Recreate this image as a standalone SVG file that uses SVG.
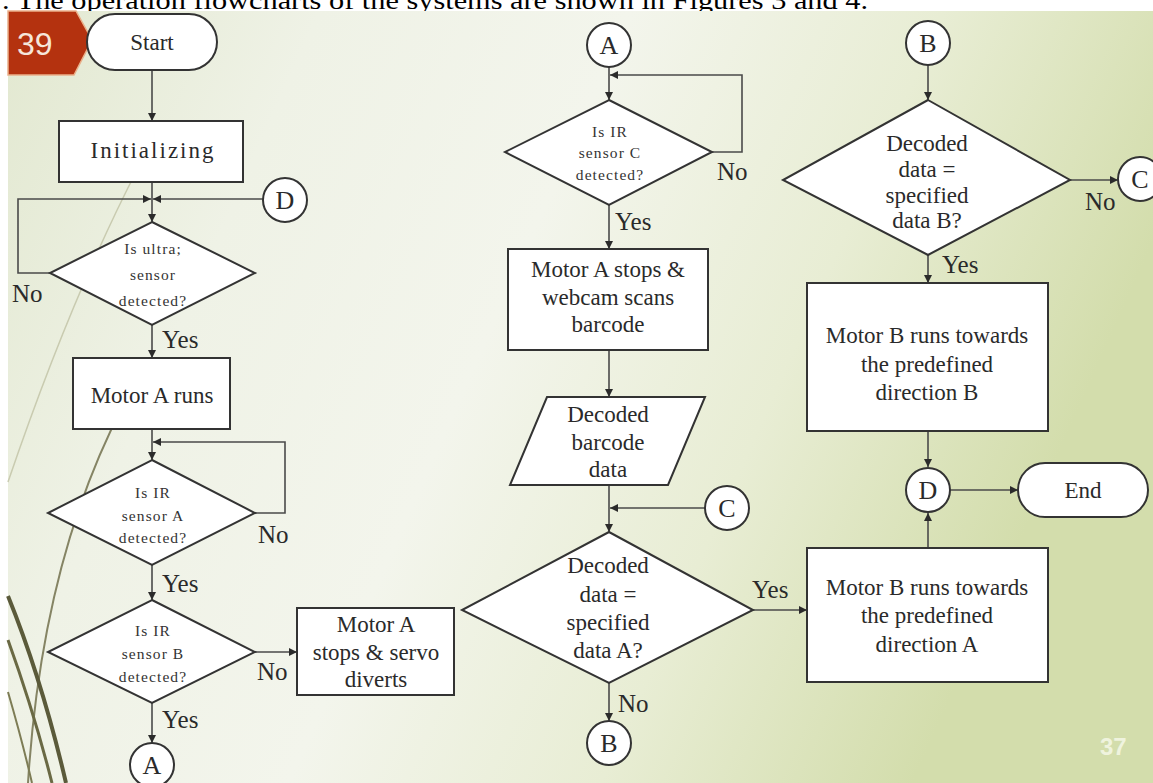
<svg xmlns="http://www.w3.org/2000/svg" width="1153" height="783" viewBox="0 0 1153 783">
<defs>
<linearGradient id="bg" x1="0" y1="0" x2="1" y2="0.3">
<stop offset="0" stop-color="#e2e8d0"/>
<stop offset="0.25" stop-color="#eff2e6"/>
<stop offset="0.5" stop-color="#f3f5ec"/>
<stop offset="0.75" stop-color="#e8edd4"/>
<stop offset="1" stop-color="#d3ddac"/>
</linearGradient>
<marker id="ah" viewBox="0 0 10 10" refX="10" refY="5" markerWidth="9" markerHeight="8" markerUnits="userSpaceOnUse" orient="auto">
<path d="M0,0 L10,5 L0,10 z" fill="#2b2b2b"/>
</marker>
<style>
.n{fill:#ffffff;stroke:#333333;stroke-width:2}
.c{fill:none;stroke:#4a4a4a;stroke-width:1.6;marker-end:url(#ah)}
.t{font-family:"Liberation Serif","Times New Roman",serif;font-size:23px;fill:#2a2a2a;text-anchor:middle}
.s{font-family:"Liberation Serif","Times New Roman",serif;font-size:15.5px;letter-spacing:1.1px;fill:#333333;text-anchor:middle}
.l{font-family:"Liberation Serif","Times New Roman",serif;font-size:25px;fill:#2a2a2a}
.k{font-family:"Liberation Serif","Times New Roman",serif;font-size:26px;fill:#2a2a2a;text-anchor:middle}
</style>
</defs>
<rect x="0" y="0" width="1153" height="783" fill="#ffffff"/>
<text x="2" y="9" font-family="Liberation Serif, serif" font-size="26" fill="#000" textLength="866" lengthAdjust="spacingAndGlyphs">. The operation flowcharts of  the systems are shown in Figures 3 and 4.</text>
<rect x="8" y="11" width="1145" height="772" fill="url(#bg)"/>
<g id="decor" fill="none">
<path d="M138,168 Q70,300 8,482" stroke="#c9cbb0" stroke-width="1.5"/>
<path d="M124,404 Q42,560 28,783" stroke="#858464" stroke-width="2"/>
<path d="M8,596 Q42,680 66,783" stroke="#5b5a3a" stroke-width="4"/>
<path d="M8,640 Q34,712 52,783" stroke="#6a6944" stroke-width="3"/>
<path d="M8,692 Q22,740 32,783" stroke="#7d7c55" stroke-width="2"/>
</g>
<g id="badge">
<polygon points="8,11 76,11 92,40 74,75 8,75" fill="#b4320f" stroke="#eab08a" stroke-width="1.5"/>
<text x="17" y="55" font-family="Liberation Sans, Arial, sans-serif" font-size="32" fill="#f6e6da">39</text>
</g>
<g id="pagenum">
<text x="1100" y="755" font-family="Liberation Sans, Arial, sans-serif" font-size="24" font-weight="bold" fill="#f5f8e8" fill-opacity="0.85">37</text>
</g>
<g id="connectors">
<path class="c" d="M152,70 V121"/>
<path class="c" d="M152,182 V222"/>
<path class="c" d="M50,273 H18 V199 H151"/>
<path class="c" d="M263,199 H153"/>
<path class="c" d="M152,325 V358"/>
<path class="c" d="M152,429 V460"/>
<path class="c" d="M255,513 H285 V442 H153"/>
<path class="c" d="M152,565 V600"/>
<path class="c" d="M255,652 H297"/>
<path class="c" d="M152,703 V743"/>
<path class="c" d="M609,67 V100"/>
<path class="c" d="M712,152 H742 V75 H610"/>
<path class="c" d="M609,205 V249"/>
<path class="c" d="M609,350 V397"/>
<path class="c" d="M609,485 V532"/>
<path class="c" d="M705,508 H610"/>
<path class="c" d="M753,610 H807"/>
<path class="c" d="M609,683 V721"/>
<path class="c" d="M928,65 V100"/>
<path class="c" d="M1070,180 H1118"/>
<path class="c" d="M928,255 V283"/>
<path class="c" d="M928,431 V467"/>
<path class="c" d="M928,548 V513"/>
<path class="c" d="M950,490 H1018"/>
</g>
<g id="labels">
<text class="l" x="12" y="302">No</text>
<text class="l" x="162" y="348">Yes</text>
<text class="l" x="258" y="543">No</text>
<text class="l" x="162" y="592">Yes</text>
<text class="l" x="257" y="680">No</text>
<text class="l" x="162" y="728">Yes</text>
<text class="l" x="717" y="180">No</text>
<text class="l" x="615" y="230">Yes</text>
<text class="l" x="752" y="598">Yes</text>
<text class="l" x="618" y="712">No</text>
<text class="l" x="1085" y="210">No</text>
<text class="l" x="942" y="273">Yes</text>
</g>
<g id="start">
<rect class="n" x="87" y="14" width="130" height="56" rx="28"/>
<text class="t" x="152" y="50" font-size="22">Start</text>
</g>
<g id="init">
<rect class="n" x="59" y="121" width="184" height="61"/>
<text class="t" x="152" y="158" font-size="25" textLength="123" lengthAdjust="spacing">Initializing</text>
</g>
<g id="connD1">
<circle class="n" cx="285" cy="200" r="22"/>
<text class="k" x="285" y="209">D</text>
</g>
<g id="dUltra">
<polygon class="n" points="152,222 255,273 152,325 50,273"/>
<text class="s" x="153" y="254">Is ultra;</text>
<text class="s" x="153" y="280">sensor</text>
<text class="s" x="153" y="306">detected?</text>
</g>
<g id="motorA">
<rect class="n" x="73" y="358" width="157" height="71"/>
<text class="t" x="152" y="403">Motor A runs</text>
</g>
<g id="dIRA">
<polygon class="n" points="152,460 255,513 152,565 48,513"/>
<text class="s" x="153" y="498">Is IR</text>
<text class="s" x="153" y="521">sensor A</text>
<text class="s" x="153" y="543">detected?</text>
</g>
<g id="dIRB">
<polygon class="n" points="152,600 255,652 152,703 48,652"/>
<text class="s" x="153" y="636">Is IR</text>
<text class="s" x="153" y="659">sensor B</text>
<text class="s" x="153" y="682">detected?</text>
</g>
<g id="servo">
<rect class="n" x="297" y="608" width="157" height="87"/>
<text class="t" x="376" y="632">Motor A</text>
<text class="t" x="376" y="660">stops &amp; servo</text>
<text class="t" x="376" y="687">diverts</text>
</g>
<g id="connA1">
<circle class="n" cx="152" cy="765" r="22"/>
<text class="k" x="152" y="774">A</text>
</g>
<g id="connA2">
<circle class="n" cx="609" cy="45" r="22"/>
<text class="k" x="609" y="54">A</text>
</g>
<g id="dIRC">
<polygon class="n" points="609,100 712,152 609,205 505,152"/>
<text class="s" x="610" y="137">Is IR</text>
<text class="s" x="610" y="158">sensor C</text>
<text class="s" x="610" y="180">detected?</text>
</g>
<g id="webcam">
<rect class="n" x="508" y="249" width="200" height="101"/>
<text class="t" x="608" y="277">Motor A stops &amp;</text>
<text class="t" x="608" y="305">webcam scans</text>
<text class="t" x="608" y="332">barcode</text>
</g>
<g id="decodedData">
<polygon class="n" points="547,397 705,397 668,485 510,485"/>
<text class="t" x="608" y="422">Decoded</text>
<text class="t" x="608" y="450">barcode</text>
<text class="t" x="608" y="477">data</text>
</g>
<g id="connC1">
<circle class="n" cx="727" cy="508" r="22"/>
<text class="k" x="727" y="517">C</text>
</g>
<g id="dDataA">
<polygon class="n" points="609,532 753,610 609,683 462,610"/>
<text class="t" x="608" y="573">Decoded</text>
<text class="t" x="608" y="602">data =</text>
<text class="t" x="608" y="630">specified</text>
<text class="t" x="608" y="658">data A?</text>
</g>
<g id="connB1">
<circle class="n" cx="609" cy="743" r="22"/>
<text class="k" x="609" y="752">B</text>
</g>
<g id="connB2">
<circle class="n" cx="928" cy="43" r="22"/>
<text class="k" x="928" y="52">B</text>
</g>
<g id="dDataB">
<polygon class="n" points="928,100 1070,180 928,255 783,180"/>
<text class="t" x="927" y="151">Decoded</text>
<text class="t" x="927" y="177">data =</text>
<text class="t" x="927" y="203">specified</text>
<text class="t" x="927" y="228">data B?</text>
</g>
<g id="connC2">
<circle class="n" cx="1140" cy="179" r="22"/>
<text class="k" x="1140" y="188">C</text>
</g>
<g id="motorBdirB">
<rect class="n" x="807" y="283" width="241" height="148"/>
<text class="t" x="927" y="343">Motor B runs towards</text>
<text class="t" x="927" y="372">the predefined</text>
<text class="t" x="927" y="400">direction B</text>
</g>
<g id="connD2">
<circle class="n" cx="928" cy="490" r="22"/>
<text class="k" x="928" y="499">D</text>
</g>
<g id="end">
<rect class="n" x="1018" y="463" width="130" height="54" rx="27"/>
<text class="t" x="1083" y="498">End</text>
</g>
<g id="motorBdirA">
<rect class="n" x="807" y="548" width="241" height="134"/>
<text class="t" x="927" y="595">Motor B runs towards</text>
<text class="t" x="927" y="623">the predefined</text>
<text class="t" x="927" y="652">direction A</text>
</g>
</svg>
